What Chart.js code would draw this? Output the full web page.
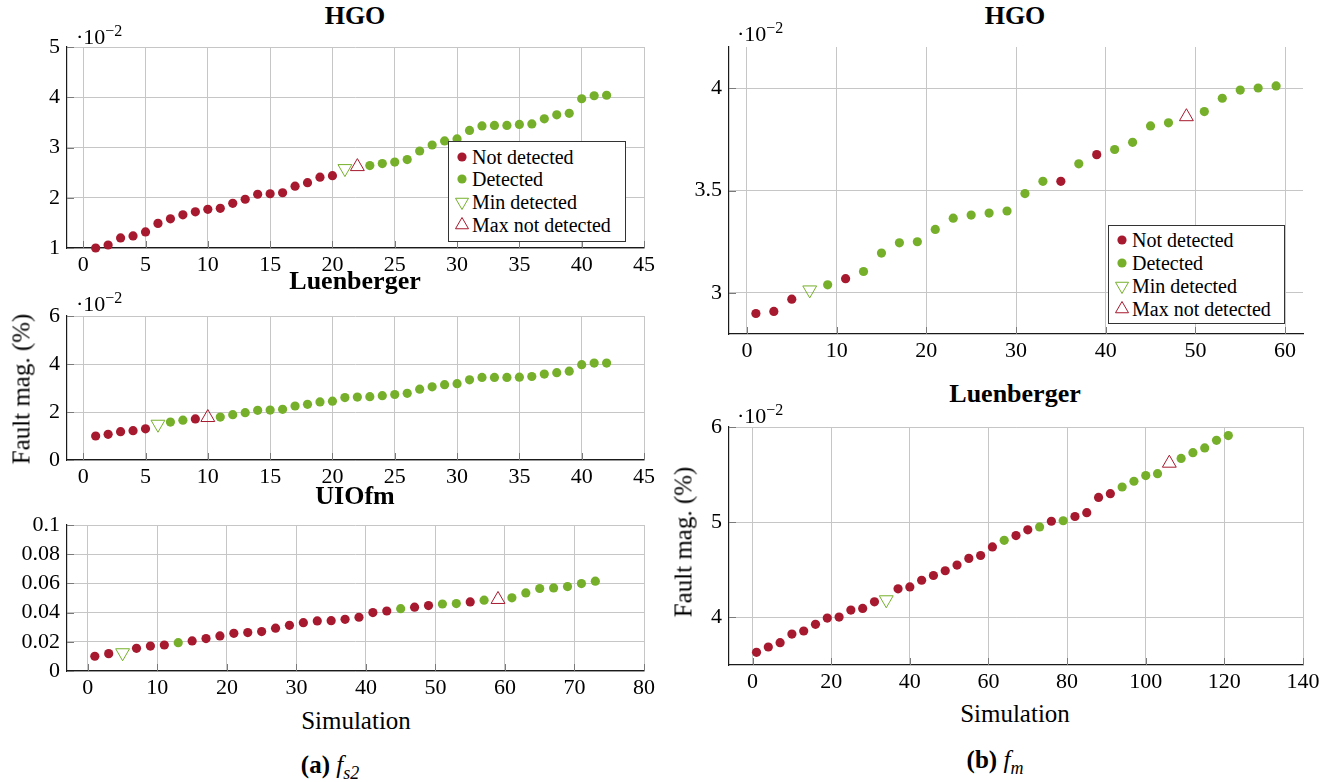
<!DOCTYPE html>
<html lang="en">
<head>
<meta charset="UTF-8">
<title>Fault magnitude per simulation</title>
<script src="https://cdn.jsdelivr.net/npm/chart.js"></script>
<style>
  body { margin: 0; background: #fff; color: #000; font-family: "Liberation Serif", serif; }
  #page { position: relative; width: 1330px; height: 782px; overflow: hidden; background: #fff; }
  .box { position: absolute; }
  .txt { position: absolute; white-space: nowrap; transform: translate(-50%, -50%); line-height: 1; }
  .title { font-weight: bold; font-size: 26px; }
  .axlab { font-size: 25px; }
  .ylab { transform: translate(-50%, -50%) rotate(-90deg); }
  .mult { position: absolute; font-size: 22px; line-height: 1; white-space: nowrap; }
  .mult sup { font-size: 16px; vertical-align: 8px; }
  .legend { position: absolute; background: #fff; border: 1px solid #333; box-sizing: border-box; font-size: 20px; }
  .legend .row { position: absolute; left: 0; height: 22px; line-height: 22px; white-space: nowrap; }
  .legend svg { position: absolute; top: 2px; }
  .caption { font-size: 25px; }
  .caption b { font-weight: bold; }
  .caption i sub { font-size: 18px; font-style: italic; }
</style>
</head>
<body>
<div id="page"></div>
<script>
const RED = '#a6192e';
const GREEN = '#76b02b';

// status codes: N = not detected, D = detected, m = min detected, M = max not detected

// (a) f_s2, HGO
const hgoFs2Sim = [1,2,3,4,5,6,7,8,9,10,11,12,13,14,15,16,17,18,19,20,21,22,23,24,25,26,27,28,29,30,31,32,33,34,35,36,37,38,39,40,41,42];
const hgoFs2Mag = [1.00,1.06,1.20,1.24,1.32,1.49,1.58,1.66,1.72,1.77,1.79,1.89,1.97,2.07,2.08,2.10,2.23,2.30,2.41,2.44,
                   2.58,2.62,2.64,2.68,2.71,2.76,2.93,3.05,3.13,3.17,3.34,3.43,3.44,3.44,3.46,3.47,3.57,3.65,3.68,3.97,4.03,4.04];
const hgoFs2Status = 'NNNNNNNNNNNNNNNNNNNNmMDDDDDDDDDDDDDDDDDDDD';

// (a) f_s2, Luenberger
const luenFs2Sim = hgoFs2Sim;
const luenFs2Mag = [1.00,1.07,1.18,1.22,1.30,1.49,1.58,1.66,1.71,1.77,1.79,1.89,1.97,2.07,2.08,2.11,2.25,2.32,2.42,2.45,
                    2.60,2.62,2.64,2.68,2.73,2.78,2.95,3.05,3.14,3.18,3.34,3.44,3.44,3.44,3.45,3.48,3.58,3.64,3.70,3.97,4.04,4.04];
const luenFs2Status = 'NNNNNmDDNMDDDDDDDDDDDDDDDDDDDDDDDDDDDDDDDD';

// (a) f_s2, UIOfm
const uioSim = [1,3,5,7,9,11,13,15,17,19,21,23,25,27,29,31,33,35,37,39,41,43,45,47,49,51,53,55,57,59,61,63,65,67,69,71,73];
const uioMag = [0.0101,0.0119,0.0125,0.0155,0.0171,0.0178,0.0194,0.0206,0.0222,0.0240,
                0.0258,0.0263,0.0270,0.0293,0.0313,0.0331,0.0343,0.0345,0.0354,0.0368,
                0.0400,0.0411,0.0427,0.0437,0.0448,0.0459,0.0462,0.0473,0.0485,0.0490,
                0.0501,0.0535,0.0565,0.0569,0.0578,0.0599,0.0615];
const uioStatus = 'NNmNNNDNNNNNNNNNNNNNNNDNNDDNDMDDDDDDD';

// (b) f_m, HGO
const hgoFmSim = [1,3,5,7,9,11,13,15,17,19,21,23,25,27,29,31,33,35,37,39,41,43,45,47,49,51,53,55,57,59];
const hgoFmMag = [2.90,2.91,2.97,3.015,3.04,3.07,3.105,3.195,3.245,3.25,
                  3.31,3.365,3.38,3.39,3.40,3.485,3.545,3.545,3.63,3.675,
                  3.70,3.735,3.815,3.83,3.86,3.885,3.95,3.99,4.00,4.01];
const hgoFmStatus = 'NNNmDNDDDDDDDDDDDNDNDDDDMDDDDD';

// (b) f_m, Luenberger
const luenFmSim = [1,4,7,10,13,16,19,22,25,28,31,34,37,40,43,46,49,52,55,58,61,64,67,70,73,76,79,82,85,88,91,94,97,100,103,106,109,112,115,118,121];
const luenFmMag = [3.633,3.689,3.734,3.825,3.857,3.927,3.993,4.003,4.077,4.094,4.164,4.185,
                   4.30,4.32,4.39,4.44,4.49,4.55,4.62,4.65,4.74,
                   4.81,4.86,4.92,4.95,5.01,5.015,5.06,5.10,5.26,5.30,
                   5.37,5.43,5.49,5.51,5.62,5.67,5.73,5.78,5.86,5.91];
const luenFmStatus = 'NNNNNNNNNNNmNNNNNNNNNDNNDNDNNNNDDDDMDDDDD';

// tick values
const xTicksFs2 = [0,5,10,15,20,25,30,35,40,45];
const xTicksUio = [0,10,20,30,40,50,60,70,80];
const xTicksHgoFm = [0,10,20,30,40,50,60];
const xTicksLuenFm = [0,20,40,60,80,100,120,140];
const yTicksHgoFs2 = [1,2,3,4,5];
const yTicksLuenFs2 = [0,2,4,6];
const yTicksUio = [0,0.02,0.04,0.06,0.08,0.1];
const yTicksHgoFm = [3,3.5,4];
const yTicksLuenFm = [4,5,6];

const FONT = '"Liberation Serif", serif';
const page = document.getElementById('page');

const innerTicks = {
  id: 'innerTicks',
  beforeDatasetsDraw(chart) {
    const { ctx, chartArea: a, scales: { x, y } } = chart;
    ctx.save();
    ctx.strokeStyle = '#7a7a7a';
    ctx.lineWidth = 1;
    ctx.beginPath();
    x.ticks.forEach(t => {
      const px = Math.round(x.getPixelForValue(t.value)) + 0.5;
      ctx.moveTo(px, a.bottom);
      ctx.lineTo(px, a.bottom - 7);
    });
    y.ticks.forEach(t => {
      const py = Math.round(y.getPixelForValue(t.value)) + 0.5;
      ctx.moveTo(a.left, py);
      ctx.lineTo(a.left + 7, py);
    });
    ctx.stroke();
    ctx.restore();
  }
};

function fmt(v) {
  return String(Math.round(v * 1000) / 1000);
}

function plot(p) {
  const yW = 62, xH = 32, T = 12, R = 26;
  const w = p.area.r - p.area.l + yW + R;
  const h = p.area.b - p.area.t + T + xH;
  const wrap = document.createElement('div');
  wrap.className = 'box';
  wrap.style.left = (p.area.l - yW) + 'px';
  wrap.style.top = (p.area.t - T) + 'px';
  wrap.style.width = w + 'px';
  wrap.style.height = h + 'px';
  const cv = document.createElement('canvas');
  cv.width = w; cv.height = h;
  cv.style.width = w + 'px'; cv.style.height = h + 'px';
  wrap.appendChild(cv);
  page.appendChild(wrap);

  const pick = code => p.sim
    .map((x, i) => p.status[i] === code ? { x: x, y: p.mag[i] } : null)
    .filter(Boolean);

  const dot = (label, code, color) => ({
    label, data: pick(code), pointStyle: 'circle', pointRadius: 4.6, pointHoverRadius: 4.6,
    backgroundColor: color, borderColor: color, pointBorderWidth: 0, showLine: false, clip: 14
  });
  const tri = (label, code, color, rot) => ({
    label, data: pick(code), pointStyle: 'triangle', rotation: rot, pointRadius: 8, pointHoverRadius: 8,
    backgroundColor: 'rgba(255,255,255,0)', borderColor: color, pointBorderWidth: 1, showLine: false, clip: 14
  });

  const axis = (min, max, ticks, horizontal) => ({
    type: 'linear', min, max,
    afterBuildTicks: s => { s.ticks = ticks.map(v => ({ value: v })); },
    afterFit: s => {
      if (horizontal) { s.height = xH; } else { s.width = yW; }
      s.paddingLeft = 0; s.paddingRight = 0; s.paddingTop = 0; s.paddingBottom = 0;
    },
    grid: { color: '#c6c6c6', lineWidth: 1, drawTicks: false },
    border: { display: true, color: '#1a1a1a', width: 1.2 },
    ticks: {
      color: '#000', font: { family: FONT, size: 22 }, padding: horizontal ? 4 : 7,
      autoSkip: false, maxRotation: 0, callback: v => fmt(v)
    }
  });

  new Chart(cv, {
    type: 'scatter',
    data: {
      datasets: [
        dot('Not detected', 'N', RED),
        dot('Detected', 'D', GREEN),
        tri('Min detected', 'm', GREEN, 180),
        tri('Max not detected', 'M', RED, 0)
      ]
    },
    options: {
      responsive: false,
      animation: false,
      events: [],
      layout: { padding: { top: T, right: R, left: 0, bottom: 0 } },
      plugins: { legend: { display: false }, tooltip: { enabled: false } },
      scales: {
        x: axis(p.xMin, p.xMax, p.xTicks, true),
        y: axis(p.yMin, p.yMax, p.yTicks, false)
      }
    },
    plugins: [innerTicks]
  });
}

plot({ area: { l: 67, t: 47, r: 644, b: 248 }, sim: hgoFs2Sim, mag: hgoFs2Mag, status: hgoFs2Status,
       xMin: -1.3, xMax: 45, xTicks: xTicksFs2, yMin: 1, yMax: 5, yTicks: yTicksHgoFs2 });
plot({ area: { l: 67, t: 316, r: 644, b: 460 }, sim: luenFs2Sim, mag: luenFs2Mag, status: luenFs2Status,
       xMin: -1.3, xMax: 45, xTicks: xTicksFs2, yMin: 0, yMax: 6, yTicks: yTicksLuenFs2 });
plot({ area: { l: 67, t: 525, r: 644, b: 671 }, sim: uioSim, mag: uioMag, status: uioStatus,
       xMin: -3, xMax: 80, xTicks: xTicksUio, yMin: 0, yMax: 0.1, yTicks: yTicksUio });
plot({ area: { l: 729, t: 47, r: 1303, b: 334 }, sim: hgoFmSim, mag: hgoFmMag, status: hgoFmStatus,
       xMin: -2, xMax: 62, xTicks: xTicksHgoFm, yMin: 2.8, yMax: 4.2, yTicks: yTicksHgoFm });
plot({ area: { l: 729, t: 427, r: 1303, b: 665 }, sim: luenFmSim, mag: luenFmMag, status: luenFmStatus,
       xMin: -6, xMax: 140, xTicks: xTicksLuenFm, yMin: 3.5, yMax: 6, yTicks: yTicksLuenFm });

// text overlays
function text(cls, html, x, y) {
  const d = document.createElement('div');
  d.className = 'txt ' + cls;
  d.innerHTML = html;
  d.style.left = x + 'px';
  d.style.top = y + 'px';
  page.appendChild(d);
}
function mult(x, baseline) {
  const d = document.createElement('div');
  d.className = 'mult';
  d.innerHTML = '&middot;10<sup>&minus;2</sup>';
  d.style.left = x + 'px';
  d.style.top = (baseline - 18) + 'px';
  page.appendChild(d);
}

text('title', 'HGO', 355, 16);
text('title', 'Luenberger', 355, 281);
text('title', 'UIOfm', 355, 496);
text('title', 'HGO', 1015, 16);
text('title', 'Luenberger', 1015, 394);

mult(76, 41);
mult(76, 308);
mult(737, 38);
mult(737, 420);

text('axlab ylab', 'Fault mag. (%)', 21, 389);
text('axlab ylab', 'Fault mag. (%)', 683, 542);
text('axlab', 'Simulation', 356, 720);
text('axlab', 'Simulation', 1015, 713);
text('caption', '<b>(a)</b> <i>f<sub>s2</sub></i>', 330, 767);
text('caption', '<b>(b)</b> <i>f<sub>m</sub></i>', 995, 762);

// legends
const legendItems = [
  { label: 'Not detected', svg: '<circle cx="9" cy="9" r="4.6" fill="' + RED + '"/>' },
  { label: 'Detected', svg: '<circle cx="9" cy="9" r="4.6" fill="' + GREEN + '"/>' },
  { label: 'Min detected', svg: '<polygon points="9,16.5 15.5,5.25 2.5,5.25" fill="none" stroke="' + GREEN + '" stroke-width="1"/>' },
  { label: 'Max not detected', svg: '<polygon points="9,1.5 15.5,12.75 2.5,12.75" fill="none" stroke="' + RED + '" stroke-width="1"/>' }
];
function legend(l, t, w, h, rows, markX, textX) {
  const box = document.createElement('div');
  box.className = 'legend';
  box.style.left = l + 'px'; box.style.top = t + 'px';
  box.style.width = w + 'px'; box.style.height = h + 'px';
  legendItems.forEach((it, i) => {
    const r = document.createElement('div');
    r.className = 'row';
    r.style.top = (rows[i] - t - 12) + 'px';
    r.innerHTML = '<svg width="18" height="18" style="left:' + (markX - l - 10) + 'px">' + it.svg + '</svg>' +
                  '<span style="position:absolute;left:' + (textX - l - 1) + 'px">' + it.label + '</span>';
    box.appendChild(r);
  });
  page.appendChild(box);
}
legend(448, 141, 178, 101, [157, 179, 202, 225], 462, 472);
legend(1108, 225, 177, 99, [240, 263, 286, 309], 1122, 1132);
</script>
</body>
</html>
